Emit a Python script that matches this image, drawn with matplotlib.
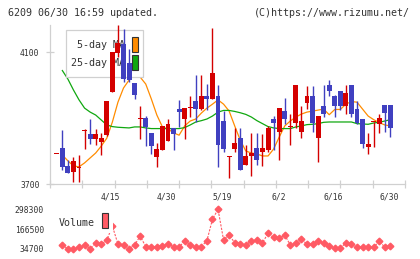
"""Candlestick chart with 5/25-day moving averages and volume (rizumu style)."""

import numpy as np
import matplotlib

matplotlib.use("Agg")
import matplotlib.pyplot as plt
from matplotlib.patches import Rectangle

# one entry per session
opens = [3792, 3809, 3755, 3736, 3750, 3862, 3851, 3837, 3827, 3848,
         3980, 4098, 4125, 4067, 4006, 3897, 3900, 3855, 3782, 3804,
         3829, 3870, 3926, 3898, 3929, 3952, 3926, 3967, 3958, 3967,
         3891, 3783, 3807, 3839, 3759, 3784, 3809, 3797, 3804, 3897,
         3859, 3921, 3873, 3884, 3858, 3945, 3967, 3838, 3936, 4000,
         3967, 3982, 3936, 4000, 3926, 3896, 3813, 3888, 3881, 3939,
         3939]
highs = [3792, 3863, 3772, 3782, 3787, 3868, 3898, 3868, 3854, 3952,
         4099, 4183, 4169, 4110, 4006, 3936, 3906, 3855, 3824, 3876,
         3896, 3870, 3954, 3930, 3967, 4029, 4031, 4004, 4173, 3999,
         3920, 3784, 3870, 3870, 3817, 3855, 3855, 3852, 3876, 3906,
         3929, 3960, 3912, 4000, 3936, 3997, 3997, 3906, 4000, 4015,
         3970, 3982, 4000, 4000, 3952, 3896, 3854, 3889, 3912, 3939,
         3939]
lows = [3792, 3742, 3732, 3706, 3706, 3807, 3822, 3817, 3788, 3845,
        3980, 4085, 4009, 4009, 3959, 3837, 3815, 3792, 3752, 3804,
        3829, 3804, 3873, 3837, 3903, 3888, 3923, 3923, 3958, 3752,
        3797, 3719, 3797, 3743, 3759, 3723, 3759, 3754, 3797, 3803,
        3773, 3882, 3818, 3870, 3838, 3926, 3858, 3768, 3904, 3967,
        3904, 3924, 3912, 3904, 3882, 3808, 3791, 3813, 3854, 3858,
        3843]
closes = [3792, 3752, 3734, 3769, 3751, 3863, 3837, 3851, 3838, 3952,
          4099, 4128, 4019, 4014, 3969, 3898, 3872, 3815, 3807, 3876,
          3882, 3852, 3918, 3930, 3930, 3926, 3967, 3958, 4036, 3819,
          3807, 3784, 3824, 3743, 3784, 3794, 3774, 3809, 3870, 3884,
          3929, 3896, 3874, 4000, 3891, 3967, 3884, 3906, 3911, 3983,
          3936, 3936, 3975, 3911, 3884, 3821, 3821, 3889, 3899, 3914,
          3869]
ma5 = [np.nan, 3788, 3770, 3755, 3752, 3764, 3779, 3794, 3815, 3839,
       3888, 3948, 3991, 4015, 4033, 4024, 4003, 3958, 3909, 3873,
       3867, 3855, 3848, 3876, 3891, 3897, 3915, 3930, 3942, 3955,
       3942, 3921, 3876, 3833, 3800, 3794, 3791, 3785, 3785, 3806,
       3842, 3876, 3891, 3903, 3912, 3918, 3921, 3924, 3927, 3910,
       3926, 3926, 3942, 3950, 3948, 3927, 3906, 3895, 3886, 3879,
       3876]
ma25 = [np.nan, 4044, 4018, 3985, 3955, 3930, 3918, 3909, 3894, 3879,
        3874, 3872, 3871, 3870, 3873, 3873, 3870, 3868, 3868, 3868,
        3868, 3868, 3868, 3871, 3879, 3888, 3892, 3897, 3906, 3918,
        3923, 3923, 3920, 3916, 3911, 3903, 3892, 3883, 3874, 3870,
        3868, 3868, 3868, 3873, 3876, 3880, 3881, 3883, 3887, 3888,
        3888, 3888, 3888, 3888, 3883, 3882, 3881, 3885, 3887, 3891,
        3895]
volume = [np.nan, 61300, 34700, 35000, 46000, 61300, 36700, 72500, 65900, 94500,
          187000, 67900, 61300, 35500, 61300, 121000, 50000, 46000, 50000, 56600,
          67900, 50000, 46000, 89800, 61300, 50000, 50000, 89800, 231900, 298300,
          94500, 127700, 76500, 67900, 61300, 87800, 94500, 76500, 138900, 112400,
          105700, 127700, 61300, 72500, 99100, 67900, 67900, 87800, 76500, 54600,
          39300, 39300, 76500, 67900, 46000, 46000, 46000, 46000, 87800, 46000,
          54600]

date_labels = ["4/15", "4/30", "5/19", "6/2", "6/16", "6/30"]
date_label_pos = [9.6, 19.8, 29.8, 40.0, 49.7, 59.8]
price_ticks = [3700, 4100]
volume_ticks = [34700, 166500, 298300]

RED = "#d40000"
BLUE = "#4040c0"
ORANGE = "#ff8c00"
GREEN = "#10a810"
PINK = "#ff5a64"
GRID = "#d0d0d0"
TXT = "#333333"
MONO = "DejaVu Sans Mono"

W, H = 420, 259


def box(left, top, right, bottom):
    """Pixel box -> figure fraction rect."""
    return [left / W, 1 - bottom / H, (right - left) / W, (bottom - top) / H]


def swatch(ax, rect, color, zorder):
    ax.add_patch(Rectangle((rect[0], rect[1]), rect[2], rect[3], transform=ax.figure.transFigure,
                           facecolor=color, edgecolor="#333333", lw=0.8,
                           zorder=zorder, clip_on=False))


def plot_chart():
    o = np.array(opens, float)
    c = np.array(closes, float)
    x = np.arange(len(o))
    colors = [RED if cc >= oo else BLUE for oo, cc in zip(o, c)]

    fig = plt.figure(figsize=(W / 100, H / 100), dpi=100)
    ax = fig.add_axes(box(50, 25, 405, 184))
    axv = fig.add_axes(box(50, 205, 405, 253))

    # price panel
    ax.plot(x, ma5, color=ORANGE, lw=0.9, zorder=1)
    ax.plot(x, ma25, color=GREEN, lw=0.9, zorder=1)
    ax.vlines(x, lows, highs, colors=colors, lw=1.0, zorder=3)
    ax.bar(x, np.maximum(np.abs(c - o), 3), bottom=np.minimum(o, c),
           width=0.88, color=colors, linewidth=0, zorder=4)

    xlo, xhi = -1.22, 62.63
    ax.set_xlim(xlo, xhi)
    ax.set_ylim(3700, 4182)
    for name in ("top", "right"):
        ax.spines[name].set_visible(False)
    for name in ("left", "bottom"):
        ax.spines[name].set_color(GRID)
        ax.spines[name].set_linewidth(0.9)
    ax.set_xticks(np.linspace(xlo, xhi, 12))
    ax.set_xticklabels([])
    ax.set_yticks(price_ticks)
    ax.set_yticklabels([str(t) for t in price_ticks], family=MONO, fontsize=5.8, color=TXT)
    ax.tick_params(direction="inout", length=6, width=0.9, color=GRID, pad=4.5)
    for pos, lab in zip(date_label_pos, date_labels):
        ax.text(pos, -(197.5 - 184) / 159, lab, transform=ax.get_xaxis_transform(),
                ha="center", va="center", family=MONO, fontsize=5.8, color=TXT)

    # legend sits under the candles but over the MA lines
    r = box(65.7, 30, 143.3, 77.3)
    ax.add_patch(Rectangle((r[0], r[1]), r[2], r[3], transform=fig.transFigure,
                           facecolor="white", edgecolor=GRID, lw=0.9, zorder=2,
                           clip_on=False))
    for label, col, yc in (("5-day MA", ORANGE, 44.5), ("25-day MA", GREEN, 62.3)):
        ax.text(125 / W, 1 - (yc + 1) / H, label, transform=fig.transFigure, ha="right",
                va="center", family=MONO, fontsize=7.2, color=TXT, zorder=2.5)
        swatch(ax, box(131.5, yc - 7.8, 137.5, yc + 7.8), col, 2.5)

    # volume panel
    vpp = (volume_ticks[-1] - volume_ticks[0]) / 39.7
    axv.plot(x, volume, color=PINK, lw=0.8, ls=(0, (2, 1.2)), marker="D", ms=3.4,
             mec=PINK, mfc=PINK, zorder=2)
    axv.set_xlim(xlo, xhi)
    axv.set_ylim(volume_ticks[0] - 4 * vpp, volume_ticks[-1] + 4.3 * vpp)
    for sp in axv.spines.values():
        sp.set_visible(False)
    axv.set_xticks([])
    axv.set_yticks(volume_ticks)
    axv.set_yticklabels([str(t) for t in volume_ticks], family=MONO, fontsize=5.8, color=TXT)
    axv.tick_params(length=0, pad=4.2)
    axv.patch.set_alpha(0)
    axv.add_patch(Rectangle((56 / W, 1 - 233 / H), 57 / W, 24 / H, transform=fig.transFigure,
                            facecolor="white", edgecolor="none", zorder=3, clip_on=False))
    axv.text(59 / W, 1 - 222.5 / H, "Volume", transform=fig.transFigure, ha="left",
             va="center", family=MONO, fontsize=7.2, color=TXT, zorder=4)
    swatch(axv, box(101.7, 213.3, 107.7, 228.3), PINK, 4)

    fig.text(8 / W, 1 - 12.7 / H, "6209 06/30 16:59 updated.", ha="left", va="center",
             family=MONO, fontsize=7.2, color=TXT)
    fig.text(410 / W, 1 - 12.7 / H, "(C)https://www.rizumu.net/", ha="right", va="center",
             family=MONO, fontsize=7.2, color=TXT)

    fig.savefig("out.png", dpi=100)
    plt.close(fig)


if __name__ == "__main__":
    plot_chart()
